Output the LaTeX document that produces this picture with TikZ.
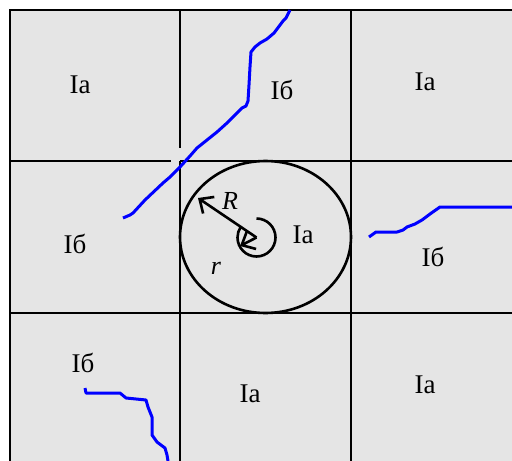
\documentclass[tikz,border=0pt]{standalone}
\usepackage{fontspec}
\setmainfont{Liberation Serif}
\usetikzlibrary{arrows.meta}
\definecolor{cellgray}{RGB}{229,229,229}
\begin{document}
\begin{tikzpicture}[x=1pt,y=-1pt,
  gridline/.style={line width=2.9pt,black},
  crack/.style={line width=3pt,blue,line join=round},
  ring/.style={line width=2.6pt,black},
  radius arrow/.style={line width=2.6pt,-{Straight Barb[length=11pt,width=20pt]}},
  lbl/.style={font=\fontsize{27}{30}\selectfont,inner sep=0pt},
  sym/.style={font=\fontsize{26}{30}\selectfont\itshape,inner sep=0pt}]
\useasboundingbox (0,0) rectangle (512,461);
\fill[white] (0,0) rectangle (512,461);
\fill[cellgray] (10,10) rectangle (512,461);
% grid
\draw[gridline] (10,461) -- (10,10) -- (512,10);
\draw[gridline] (180,10) -- (180,148);
\draw[gridline] (180,161) -- (180,461);
\draw[gridline] (351,10) -- (351,461);
\draw[gridline] (10,161) -- (171,161);
\draw[gridline] (180,161) -- (512,161);
\draw[gridline] (10,313) -- (512,313);
% circle region
\coordinate (c) at (256.5,237.5);
\coordinate (Rtip) at (198,198);
\coordinate (rtip) at (240,246);
\draw[ring] (265.5,237) ellipse [x radius=85.5, y radius=76];
\draw[ring] (c) ++(-90:19) arc[start angle=-90, end angle=213, radius=19];
\draw[radius arrow] (c) -- (Rtip);
\draw[radius arrow] (c) -- (rtip);
\node[sym] (R) at (230,201) {R};
\node[sym] (r) at (216,268) {r};
% cracks
\draw[crack] (290,10) -- (286,18) -- (283,21) -- (280,25) -- (277,29) -- (274,33) -- (267,39) -- (260,43) -- (255,47) -- (251,52) -- (250,67) -- (249,85) -- (248,101) -- (246,106) -- (242,108) -- (237,113) -- (227,123) -- (217,132) -- (207,140) -- (197,148) -- (190,156) -- (180,167) -- (170,177) -- (163,183) -- (145,200) -- (133,213) -- (130,215) -- (123,218);
\draw[crack] (369,237) -- (376,232) -- (397,232) -- (403,230) -- (407,227) -- (415,224) -- (422,220) -- (430,214) -- (440,207) -- (512,207);
\draw[crack] (85,388) -- (86,393) -- (120,393) -- (126,398) -- (136,399) -- (146,400) -- (148,407) -- (152,417) -- (152,435) -- (157,442) -- (165,448) -- (167,455) -- (168,461);
% labels
\node[lbl] (l1) at (80,85) {Ia};
\node[lbl] (l2) at (282,90) {Iб};
\node[lbl] (l3) at (425,82) {Ia};
\node[lbl] (l4) at (75,244) {Iб};
\node[lbl] (l5) at (303,235) {Ia};
\node[lbl] (l6) at (433,257) {Iб};
\node[lbl] (l7) at (83,363) {Iб};
\node[lbl] (l8) at (250,394) {Ia};
\node[lbl] (l9) at (425,385) {Ia};
\end{tikzpicture}
\end{document}
